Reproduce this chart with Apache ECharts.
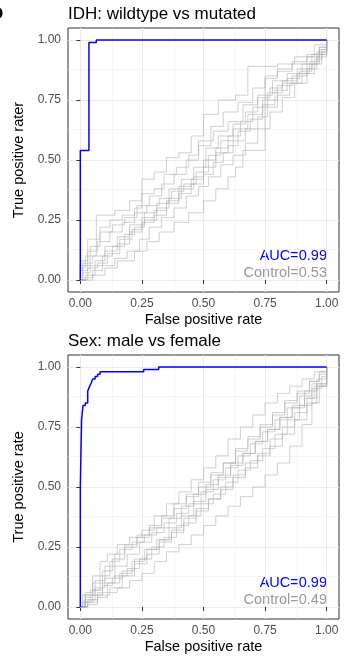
<!DOCTYPE html>
<html>
<head>
<meta charset="utf-8">
<script src="https://cdn.jsdelivr.net/npm/echarts@6.0.0/dist/echarts.min.js"></script>
<style>
  html, body { margin: 0; padding: 0; background: #fff; }
  #chart { width: 358px; height: 657px; }
</style>
</head>
<body>
<div id="chart"></div>
<script>
// axis ticks shared by both panels
const ticks = [0, 0.25, 0.5, 0.75, 1];
const tickLabels = ['0.00', '0.25', '0.50', '0.75', '1.00'];
const minorTicks = [0.125, 0.375, 0.625, 0.875];

const panelTitles = ['IDH: wildtype vs mutated', 'Sex: male vs female'];
const yTitles = ['True positive rater', 'True positive rate'];
const xTitle = 'False positive rate';
const aucLabels = ['AUC=0.99', 'AUC=0.99'];
const controlLabels = ['Control=0.53', 'Control=0.49'];

// ROC curves (FPR, TPR)
const idhRoc = [[0, 0], [0, 0.54], [0.035, 0.99], [0.065, 1], [1, 1]];
const idhControl = [
  [[0,0],[0,0.05],[0.02,0.1],[0.065,0.27],[0.14,0.29],[0.2,0.33],[0.25,0.42],[0.3,0.45],[0.35,0.51],[0.4,0.53],[0.45,0.6],[0.5,0.69],[0.56,0.75],[0.63,0.77],[0.68,0.89],[0.8,0.9],[0.87,0.93],[0.95,0.98],[1,1]],
  [[0,0],[0.05,0.02],[0.1,0.05],[0.15,0.08],[0.22,0.12],[0.27,0.16],[0.32,0.2],[0.38,0.24],[0.44,0.28],[0.5,0.33],[0.55,0.38],[0.6,0.43],[0.63,0.47],[0.66,0.54],[0.75,0.84],[0.8,0.87],[0.86,0.9],[0.92,0.94],[0.97,0.97],[1,1]],
  [[0,0],[0,0.08],[0.03,0.17],[0.08,0.22],[0.12,0.25],[0.17,0.27],[0.22,0.3],[0.25,0.36],[0.3,0.38],[0.34,0.44],[0.39,0.47],[0.44,0.52],[0.48,0.58],[0.54,0.62],[0.6,0.66],[0.66,0.73],[0.72,0.77],[0.78,0.83],[0.84,0.86],[0.9,0.9],[0.96,0.95],[1,1]],
  [[0,0],[0.01,0.03],[0.04,0.06],[0.09,0.1],[0.13,0.14],[0.18,0.19],[0.22,0.22],[0.26,0.25],[0.31,0.3],[0.36,0.34],[0.41,0.38],[0.46,0.43],[0.5,0.5],[0.55,0.55],[0.6,0.6],[0.65,0.66],[0.7,0.72],[0.76,0.78],[0.82,0.83],[0.88,0.88],[0.94,0.94],[1,1]],
  [[0,0],[0,0.04],[0.03,0.12],[0.07,0.16],[0.12,0.2],[0.17,0.24],[0.22,0.28],[0.27,0.31],[0.32,0.34],[0.37,0.37],[0.42,0.4],[0.47,0.45],[0.52,0.52],[0.57,0.58],[0.62,0.63],[0.68,0.69],[0.74,0.75],[0.8,0.81],[0.86,0.85],[0.92,0.9],[0.97,0.96],[1,1]],
  [[0,0],[0.02,0.02],[0.06,0.08],[0.1,0.12],[0.15,0.15],[0.2,0.2],[0.25,0.24],[0.3,0.27],[0.35,0.32],[0.4,0.36],[0.45,0.4],[0.5,0.44],[0.54,0.49],[0.58,0.53],[0.62,0.58],[0.67,0.63],[0.72,0.68],[0.76,0.72],[0.8,0.77],[0.85,0.82],[0.9,0.86],[0.95,0.92],[0.98,0.96],[1,1]],
  [[0,0],[0,0.06],[0.04,0.14],[0.08,0.2],[0.13,0.23],[0.18,0.26],[0.23,0.31],[0.28,0.35],[0.33,0.4],[0.38,0.44],[0.43,0.5],[0.48,0.56],[0.53,0.64],[0.58,0.7],[0.64,0.74],[0.7,0.8],[0.75,0.85],[0.8,0.88],[0.86,0.91],[0.92,0.93],[0.97,0.97],[1,1]],
  [[0,0],[0.03,0.05],[0.07,0.07],[0.11,0.11],[0.16,0.17],[0.21,0.21],[0.25,0.26],[0.3,0.29],[0.35,0.33],[0.4,0.39],[0.45,0.42],[0.5,0.47],[0.55,0.53],[0.6,0.56],[0.64,0.62],[0.69,0.67],[0.74,0.73],[0.79,0.79],[0.84,0.84],[0.89,0.87],[0.94,0.9],[0.98,0.95],[1,1]],
  [[0,0],[0.01,0.07],[0.05,0.1],[0.1,0.14],[0.15,0.18],[0.2,0.23],[0.26,0.28],[0.31,0.32],[0.36,0.38],[0.41,0.42],[0.46,0.47],[0.51,0.55],[0.56,0.6],[0.62,0.65],[0.67,0.7],[0.72,0.76],[0.77,0.8],[0.82,0.82],[0.88,0.86],[0.93,0.91],[0.97,0.94],[1,1]],
  [[0,0],[0.02,0.01],[0.05,0.04],[0.09,0.06],[0.14,0.09],[0.19,0.12],[0.24,0.17],[0.28,0.22],[0.33,0.26],[0.38,0.3],[0.43,0.35],[0.48,0.39],[0.52,0.43],[0.57,0.48],[0.62,0.52],[0.67,0.57],[0.72,0.63],[0.77,0.7],[0.82,0.76],[0.87,0.82],[0.92,0.88],[0.96,0.93],[1,1]]
];

const sexRoc = [[0,0],[0,0.5],[0.005,0.78],[0.011,0.84],[0.02,0.85],[0.03,0.9],[0.036,0.915],[0.043,0.93],[0.05,0.95],[0.06,0.96],[0.07,0.97],[0.08,0.98],[0.257,0.99],[0.318,1],[1,1]];
const sexControl = [
  [[0,0],[0.02,0.06],[0.05,0.13],[0.08,0.19],[0.11,0.22],[0.15,0.26],[0.2,0.29],[0.25,0.32],[0.3,0.38],[0.35,0.43],[0.4,0.48],[0.45,0.53],[0.5,0.58],[0.55,0.63],[0.6,0.7],[0.65,0.75],[0.7,0.8],[0.75,0.85],[0.8,0.89],[0.85,0.92],[0.9,0.95],[0.95,0.98],[1,1]],
  [[0,0],[0.03,0.02],[0.07,0.04],[0.11,0.06],[0.15,0.08],[0.2,0.11],[0.25,0.14],[0.3,0.19],[0.35,0.23],[0.4,0.26],[0.45,0.3],[0.5,0.34],[0.55,0.38],[0.6,0.42],[0.65,0.46],[0.7,0.5],[0.75,0.55],[0.8,0.6],[0.85,0.67],[0.9,0.76],[0.94,0.85],[0.97,0.92],[1,1]],
  [[0,0],[0.02,0.03],[0.06,0.08],[0.1,0.12],[0.14,0.17],[0.19,0.22],[0.24,0.27],[0.29,0.31],[0.34,0.35],[0.39,0.39],[0.44,0.43],[0.49,0.48],[0.54,0.53],[0.59,0.58],[0.64,0.63],[0.69,0.68],[0.74,0.73],[0.79,0.78],[0.84,0.83],[0.89,0.88],[0.94,0.93],[1,1]],
  [[0,0],[0.01,0.05],[0.05,0.1],[0.09,0.15],[0.13,0.2],[0.18,0.25],[0.23,0.3],[0.28,0.34],[0.33,0.38],[0.38,0.43],[0.43,0.47],[0.48,0.52],[0.53,0.56],[0.58,0.6],[0.63,0.66],[0.68,0.71],[0.73,0.75],[0.78,0.8],[0.83,0.85],[0.88,0.89],[0.93,0.94],[0.97,0.97],[1,1]],
  [[0,0],[0.03,0.01],[0.07,0.05],[0.12,0.08],[0.17,0.13],[0.22,0.18],[0.27,0.22],[0.32,0.27],[0.37,0.32],[0.42,0.37],[0.47,0.41],[0.52,0.45],[0.57,0.49],[0.62,0.55],[0.67,0.6],[0.72,0.64],[0.77,0.7],[0.82,0.75],[0.87,0.81],[0.92,0.87],[0.96,0.93],[1,1]],
  [[0,0],[0.01,0.02],[0.04,0.07],[0.08,0.13],[0.12,0.19],[0.16,0.24],[0.21,0.27],[0.26,0.3],[0.31,0.33],[0.36,0.37],[0.41,0.42],[0.46,0.47],[0.51,0.51],[0.56,0.55],[0.61,0.6],[0.66,0.64],[0.71,0.69],[0.76,0.74],[0.81,0.79],[0.86,0.84],[0.91,0.9],[0.96,0.95],[1,1]],
  [[0,0],[0.02,0.04],[0.05,0.07],[0.09,0.1],[0.14,0.13],[0.19,0.16],[0.24,0.2],[0.29,0.25],[0.34,0.29],[0.39,0.34],[0.44,0.38],[0.49,0.43],[0.54,0.47],[0.59,0.52],[0.64,0.57],[0.69,0.61],[0.74,0.66],[0.79,0.72],[0.84,0.78],[0.89,0.84],[0.94,0.91],[0.98,0.96],[1,1]],
  [[0,0],[0.02,0.05],[0.06,0.11],[0.1,0.17],[0.14,0.22],[0.18,0.26],[0.23,0.29],[0.28,0.33],[0.33,0.37],[0.38,0.41],[0.43,0.46],[0.48,0.5],[0.53,0.55],[0.58,0.6],[0.63,0.65],[0.68,0.7],[0.73,0.76],[0.78,0.81],[0.83,0.86],[0.88,0.9],[0.93,0.94],[0.97,0.98],[1,1]],
  [[0,0],[0.03,0.03],[0.07,0.06],[0.11,0.1],[0.16,0.14],[0.21,0.19],[0.26,0.24],[0.31,0.28],[0.36,0.33],[0.41,0.38],[0.46,0.44],[0.51,0.49],[0.56,0.54],[0.61,0.59],[0.66,0.64],[0.71,0.69],[0.76,0.74],[0.81,0.79],[0.86,0.83],[0.91,0.87],[0.95,0.92],[1,1]],
  [[0,0],[0.02,0.02],[0.05,0.05],[0.09,0.09],[0.13,0.12],[0.17,0.15],[0.22,0.2],[0.27,0.24],[0.32,0.28],[0.37,0.31],[0.42,0.35],[0.47,0.4],[0.52,0.45],[0.57,0.5],[0.62,0.54],[0.67,0.58],[0.72,0.63],[0.77,0.67],[0.82,0.72],[0.87,0.78],[0.92,0.85],[0.96,0.92],[1,1]]
];

const rocs = [idhRoc, sexRoc];
const controls = [idhControl, sexControl];

const FONT = '"Liberation Sans", Arial, sans-serif';
const gridTops = [28, 355];
const panelH = 264;

const chart = echarts.init(document.getElementById('chart'));

const grids = gridTops.map(t => ({
  left: 68, top: t, width: 271, height: panelH,
  show: true, borderColor: '#333333', borderWidth: 1, backgroundColor: '#fff'
}));

const tickFmt = v => {
  const i = ticks.indexOf(v);
  return i >= 0 ? tickLabels[i] : '';
};

const xAxes = gridTops.map((t, i) => ({
  type: 'value', gridIndex: i, min: -0.05, max: 1.05,
  name: xTitle, nameLocation: 'middle', nameGap: 20,
  nameTextStyle: { color: '#000', fontSize: 14.5, fontFamily: FONT },
  axisLine: { show: false },
  axisTick: { show: true, customValues: ticks, length: 4, lineStyle: { color: '#333333', width: 1 } },
  axisLabel: { customValues: ticks, formatter: tickFmt, color: '#4D4D4D', fontSize: 12, fontFamily: FONT, margin: 6 },
  splitLine: { show: false }
}));

const yAxes = gridTops.map((t, i) => ({
  type: 'value', gridIndex: i, min: -0.05, max: 1.05,
  name: yTitles[i], nameLocation: 'middle', nameGap: 37, nameRotate: 90,
  nameTextStyle: { color: '#000', fontSize: 14.5, fontFamily: FONT },
  axisLine: { show: false },
  axisTick: { show: true, customValues: ticks, length: 4, lineStyle: { color: '#333333', width: 1 } },
  axisLabel: { customValues: ticks, formatter: tickFmt, color: '#4D4D4D', fontSize: 12, fontFamily: FONT, margin: 7 },
  splitLine: { show: false }
}));

const series = [];
gridTops.forEach((t, i) => {
  // grid lines, drawn under everything
  series.push({
    type: 'line', xAxisIndex: i, yAxisIndex: i, data: [], silent: true, z: 0,
    markLine: {
      silent: true, symbol: 'none', animation: false, z: 0,
      label: { show: false },
      data: [
        ...minorTicks.map(v => ({ xAxis: v, lineStyle: { color: '#EBEBEB', width: 0.5, type: 'solid' } })),
        ...minorTicks.map(v => ({ yAxis: v, lineStyle: { color: '#EBEBEB', width: 0.5, type: 'solid' } })),
        ...ticks.map(v => ({ xAxis: v, lineStyle: { color: '#EBEBEB', width: 1, type: 'solid' } })),
        ...ticks.map(v => ({ yAxis: v, lineStyle: { color: '#EBEBEB', width: 1, type: 'solid' } }))
      ]
    }
  });
  controls[i].forEach(curve => {
    series.push({
      type: 'line', xAxisIndex: i, yAxisIndex: i, data: curve, step: 'end',
      symbol: 'none', silent: true, z: 2,
      lineStyle: { color: 'rgba(170,170,170,0.55)', width: 1 }
    });
  });
  series.push({
    type: 'line', xAxisIndex: i, yAxisIndex: i, data: rocs[i], step: 'end',
    symbol: 'none', silent: true, z: 3,
    lineStyle: { color: '#0000FF', width: 1.5 }
  });
});

const graphic = [
  { type: 'text', left: -9, top: 6, style: { text: 'D', font: 'bold 17px ' + FONT, fill: '#000' } }
];
gridTops.forEach((t, i) => {
  graphic.push({ type: 'text', x: 68, y: t - 13.5, style: { text: panelTitles[i], font: '17px ' + FONT, fill: '#000', verticalAlign: 'middle' } });
  graphic.push({ type: 'text', x: 327, y: t + 228, style: { text: aucLabels[i], font: '14.5px ' + FONT, fill: '#0000FF', align: 'right', verticalAlign: 'middle' } });
  graphic.push({ type: 'text', x: 327, y: t + 245, style: { text: controlLabels[i], font: '14.5px ' + FONT, fill: '#999999', align: 'right', verticalAlign: 'middle' } });
});

chart.setOption({
  animation: false,
  backgroundColor: '#fff',
  grid: grids,
  xAxis: xAxes,
  yAxis: yAxes,
  series: series,
  graphic: graphic
});
</script>
</body>
</html>
